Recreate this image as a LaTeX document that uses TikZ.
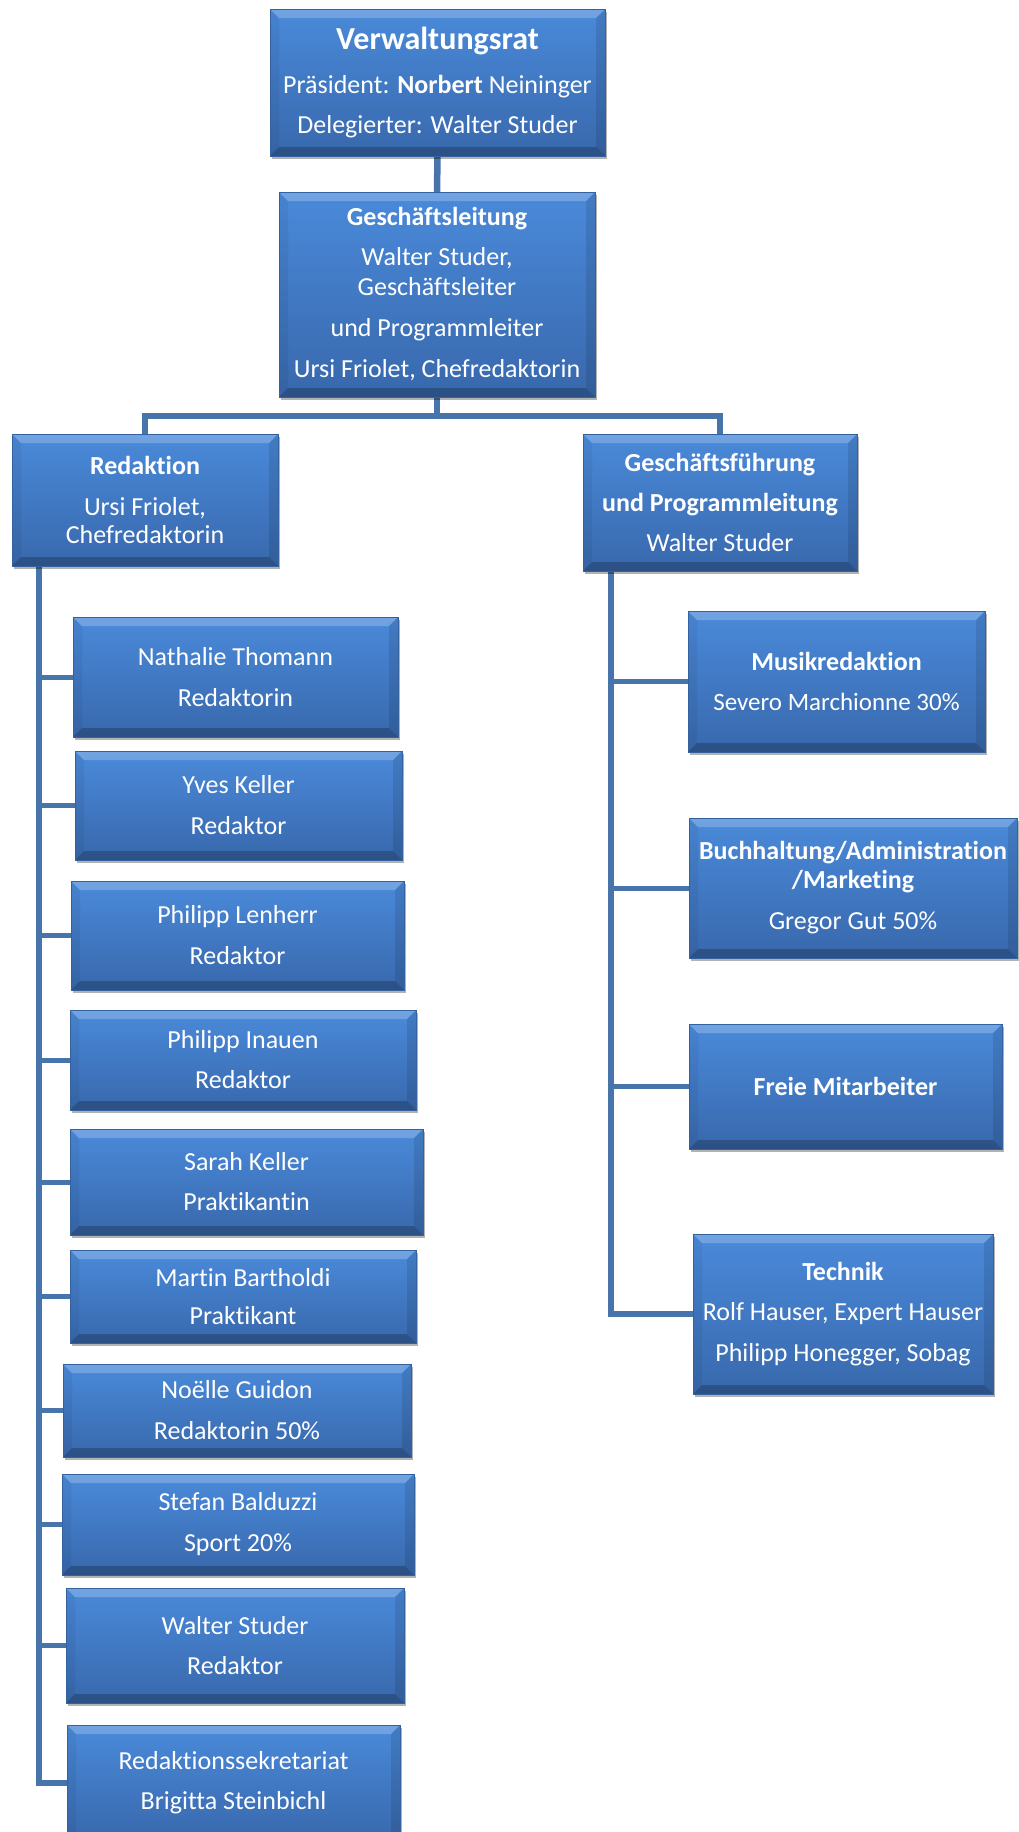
\documentclass[tikz,border=0pt]{standalone}
\usepackage{fontspec}
\setmainfont{Carlito}[Ligatures=NoCommon]
\usetikzlibrary{shadows,backgrounds}
\definecolor{boxtop}{HTML}{4A8ADA}
\definecolor{boxbot}{HTML}{3868AC}
\definecolor{boxedge}{HTML}{34629F}
\definecolor{connc}{HTML}{4874AC}
\tikzset{
  orgbox/.style={rectangle, inner sep=0pt, outer sep=0pt, draw=boxedge, line width=0.8pt,
    top color=boxtop, bottom color=boxbot, text=white, align=center,
    font=\fontsize{26}{40}\selectfont,
    drop shadow={shadow xshift=1.5pt, shadow yshift=-3pt, fill=black, opacity=0.3},
    path picture={
      \fill[white, opacity=0.22] (path picture bounding box.north west) -- (path picture bounding box.north east)
        -- ([shift={(-9pt,-9pt)}]path picture bounding box.north east) -- ([shift={(9pt,-9pt)}]path picture bounding box.north west) -- cycle;
      \fill[black, opacity=0.22] (path picture bounding box.south west) -- (path picture bounding box.south east)
        -- ([shift={(-9pt,9pt)}]path picture bounding box.south east) -- ([shift={(9pt,9pt)}]path picture bounding box.south west) -- cycle;
      \fill[black, opacity=0.05] (path picture bounding box.north west) -- ([shift={(9pt,-9pt)}]path picture bounding box.north west)
        -- ([shift={(9pt,9pt)}]path picture bounding box.south west) -- (path picture bounding box.south west) -- cycle;
      \fill[black, opacity=0.10] (path picture bounding box.north east) -- ([shift={(-9pt,-9pt)}]path picture bounding box.north east)
        -- ([shift={(-9pt,9pt)}]path picture bounding box.south east) -- (path picture bounding box.south east) -- cycle;
    }},
  conn/.style={draw=connc, line width=6.5pt, line join=miter},
  branch/.style={draw=connc, line width=5pt}
}
\newcommand\obox[6]{\node[orgbox, minimum width={#4-#2}, minimum height={#5-#3}] (#1) at ({(#2+#4)/2},{(#3+#5)/2}) {#6};}
\begin{document}
\begin{tikzpicture}[x=1pt,y=-1pt]
\useasboundingbox (0,0) rectangle (1019,1832);
% top
\obox{vr}{270}{9}{605}{156}{{\fontsize{32}{40}\selectfont\bfseries Verwaltungsrat}\\[4pt] Präsident: \textbf{Norbert} Neininger\\ Delegierter: Walter Studer}
\obox{gl}{279}{192}{595}{397}{\textbf{Geschäftsleitung}\\ Walter Studer,\\[-10pt] Geschäftsleiter\\[1pt] und Programmleiter\\[1pt] Ursi Friolet, Chefredaktorin}
\obox{red}{12}{434}{278}{566}{\textbf{Redaktion}\\[1pt] Ursi Friolet,\\[-12pt] Chefredaktorin}
\obox{gf}{583}{434}{857}{571}{\textbf{Geschäftsführung}\\ \textbf{und Programmleitung}\\ Walter Studer}
% Redaktion
\obox{nt}{73}{617}{398}{737}{Nathalie Thomann\\[1pt] Redaktorin}
\obox{yk}{75}{751}{402}{860}{Yves Keller\\[1pt] Redaktor}
\obox{pl}{71}{881}{404}{990}{Philipp Lenherr\\[1pt] Redaktor}
\obox{pi}{70}{1010}{416}{1110}{Philipp Inauen\\ Redaktor}
\obox{sk}{70}{1129}{423}{1235}{Sarah Keller\\ Praktikantin}
\obox{mb}{70}{1250}{416}{1343}{Martin Bartholdi\\[-2pt] Praktikant}
\obox{ng}{63}{1364}{411}{1457}{Noëlle Guidon\\[1pt] Redaktorin 50\%}
\obox{sb}{62}{1474}{414}{1575}{Stefan Balduzzi\\[1pt] Sport 20\%}
\obox{ws}{66}{1588}{404}{1703}{Walter Studer\\ Redaktor}
\obox{rs}{67}{1725}{400}{1841}{Redaktionssekretariat\\ Brigitta Steinbichl}
% Geschaeftsfuehrung
\obox{mr}{688}{611}{985}{752}{\textbf{Musikredaktion}\\ {\fontsize{25}{40}\selectfont Severo Marchionne 30\%}}
\obox{bh}{689}{818}{1017}{958}{\textbf{Buchhaltung/Administration}\\[-11pt] \textbf{/Marketing}\\[1pt] Gregor Gut 50\%}
\obox{fm}{689}{1024}{1002}{1149}{\textbf{Freie Mitarbeiter}}
\obox{te}{693}{1234}{993}{1394}{\textbf{Technik}\\ Rolf Hauser, Expert Hauser\\[1pt] Philipp Honegger, Sobag}
% connectors
\begin{scope}[on background layer]
  \fill[white] (0,0) rectangle (1019,1832);
  \coordinate (bar) at (0,416);
  \draw[conn] (vr.south) -- (gl.north);
  \draw[conn] (gl.south) -- (gl.south |- bar);
  \draw[conn] (red.north) |- (gf.north |- bar) -- (gf.north);
  \coordinate (ls) at ([xshift=27pt]red.south west);
  \draw[conn] (ls) |- (rs.west);
  \foreach \n in {nt,yk,pl,pi,sk,mb,ng,sb,ws} \draw[branch] (ls |- \n.west) -- (\n.west);
  \coordinate (rsp) at ([xshift=28pt]gf.south west);
  \draw[conn] (rsp) |- (te.west);
  \foreach \n in {mr,bh,fm} \draw[branch] (rsp |- \n.west) -- (\n.west);
\end{scope}
\end{tikzpicture}
\end{document}
